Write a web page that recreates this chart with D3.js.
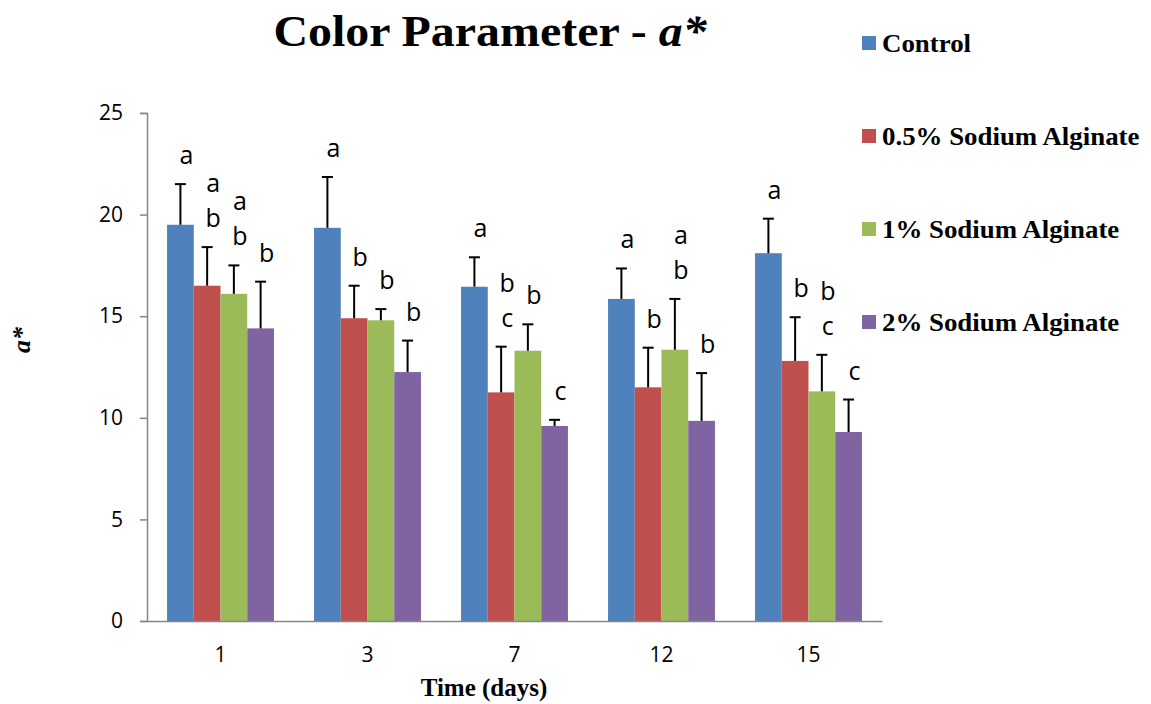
<!DOCTYPE html>
<html>
<head>
<meta charset="utf-8">
<script src="https://cdn.jsdelivr.net/npm/d3@7"></script>
<style>
  html, body { margin: 0; padding: 0; background: #fff; }
  svg { display: block; }
</style>
</head>
<body>
<svg id="chart" width="1151" height="704"></svg>
<script>
// Storage days
const days = ["1", "3", "7", "12", "15"];

// Series names
const seriesNames = ["Control", "0.5% Sodium Alginate", "1% Sodium Alginate", "2% Sodium Alginate"];
const seriesColors = ["#4F81BD", "#C0504D", "#9BBB59", "#8064A2"];

// Mean a* values per day
const controlMean = [19.5, 19.35, 16.45, 15.85, 18.1];
const alg05Mean   = [16.5, 14.9, 11.25, 11.5, 12.8];
const alg1Mean    = [16.1, 14.8, 13.3, 13.35, 11.3];
const alg2Mean    = [14.4, 12.25, 9.6, 9.85, 9.3];

// Standard deviations (upper error bars)
const controlSD = [2.0, 2.5, 1.45, 1.5, 1.7];
const alg05SD   = [1.9, 1.6, 2.25, 1.95, 2.15];
const alg1SD    = [1.4, 0.55, 1.3, 2.5, 1.8];
const alg2SD    = [2.3, 1.55, 0.3, 2.35, 1.6];

// Significance letters (top to bottom)
const controlLetters = ["a", "a", "a", "a", "a"];
const alg05Letters   = ["ab", "b", "bc", "b", "b"];
const alg1Letters    = ["ab", "b", "b", "ab", "bc"];
const alg2Letters    = ["b", "b", "c", "b", "c"];

// Y axis ticks
const yTicks = [0, 5, 10, 15, 20, 25];

const means = [controlMean, alg05Mean, alg1Mean, alg2Mean];
const sds = [controlSD, alg05SD, alg1SD, alg2SD];
const letters = [controlLetters, alg05Letters, alg1Letters, alg2Letters];

const svg = d3.select("#chart");
const plot = { left: 147, right: 882, top: 113, bottom: 621 };

const x0 = d3.scaleBand().domain(days).range([plot.left, plot.right]).paddingInner(0.2727).paddingOuter(0.1364);
const x1 = d3.scaleBand().domain(d3.range(seriesNames.length)).range([0, x0.bandwidth()]);
const y = d3.scaleLinear().domain([0, 25]).range([plot.bottom, plot.top]);

const sansFont = "'Open Sans', 'Liberation Sans', sans-serif";
const serifFont = "'Liberation Serif', 'Times New Roman', serif";

// Bars
const rows = [];
days.forEach((d, i) => {
  seriesNames.forEach((s, j) => {
    rows.push({ day: d, s: j, v: means[j][i], sd: sds[j][i], lab: letters[j][i] });
  });
});

svg.append("g").selectAll("rect").data(rows).join("rect")
  .attr("x", r => x0(r.day) + x1(r.s))
  .attr("y", r => y(r.v))
  .attr("width", x1.bandwidth())
  .attr("height", r => y(0) - y(r.v))
  .attr("fill", r => seriesColors[r.s]);

// Error bars
const eg = svg.append("g").attr("stroke", "#000").attr("stroke-width", 2);
rows.forEach(r => {
  const cx = x0(r.day) + x1(r.s) + x1.bandwidth() / 2;
  eg.append("line").attr("x1", cx).attr("x2", cx).attr("y1", y(r.v)).attr("y2", y(r.v + r.sd));
  eg.append("line").attr("x1", cx - 5.5).attr("x2", cx + 5.5).attr("y1", y(r.v + r.sd)).attr("y2", y(r.v + r.sd));
});

// Significance letters
const lg = svg.append("g").attr("font-family", sansFont).attr("font-size", 25).attr("fill", "#000").attr("text-anchor", "middle");
rows.forEach(r => {
  const cx = x0(r.day) + x1(r.s) + x1.bandwidth() / 2 + 6;
  const top = y(r.v + r.sd);
  const chars = r.lab.split("");
  chars.forEach((c, k) => {
    const fromBottom = chars.length - 1 - k;
    lg.append("text").attr("x", cx).attr("y", top - 20 - fromBottom * 35).text(c);
  });
});

// Y axis
const yAxis = svg.append("g").attr("transform", `translate(${plot.left},0)`)
  .call(d3.axisLeft(y).tickValues(yTicks).tickSize(7).tickPadding(17));
yAxis.select(".domain").attr("stroke", "#868686").attr("stroke-width", 1.5);
yAxis.selectAll(".tick line").attr("stroke", "#868686").attr("stroke-width", 1.5);
yAxis.selectAll(".tick text").attr("font-family", sansFont).attr("font-size", 21).attr("fill", "#000");

// X axis
const xAxis = svg.append("g").attr("transform", `translate(0,${plot.bottom})`)
  .call(d3.axisBottom(x0).tickSize(0).tickPadding(26));
xAxis.select(".domain").attr("stroke", "#868686").attr("stroke-width", 1.5);
xAxis.selectAll(".tick text").attr("font-family", sansFont).attr("font-size", 21).attr("fill", "#000");

// Title
const title = svg.append("text").attr("transform", "translate(490,46) scale(1.065,1)").attr("text-anchor", "middle")
  .attr("font-family", serifFont).attr("font-weight", "bold").attr("font-size", 45).attr("fill", "#000");
title.append("tspan").text("Color Parameter - ");
title.append("tspan").attr("font-style", "italic").text("a*");

// Axis titles
svg.append("text").attr("x", 484).attr("y", 696).attr("text-anchor", "middle")
  .attr("font-family", serifFont).attr("font-weight", "bold").attr("font-size", 25).text("Time (days)");

svg.append("text").attr("transform", "translate(30,340) rotate(-90)").attr("text-anchor", "middle")
  .attr("font-family", serifFont).attr("font-weight", "bold").attr("font-style", "italic").attr("font-size", 26).text("a*");

// Legend
const legend = svg.append("g");
seriesNames.forEach((s, j) => {
  const cy = 43 + j * 93;
  legend.append("rect").attr("x", 862).attr("y", cy - 7).attr("width", 14).attr("height", 14).attr("fill", seriesColors[j]);
  legend.append("text").attr("transform", `translate(882,${cy + 9}) scale(1.075,1)`)
    .attr("font-family", serifFont).attr("font-weight", "bold").attr("font-size", 25).attr("fill", "#000").text(s);
});
</script>
</body>
</html>
